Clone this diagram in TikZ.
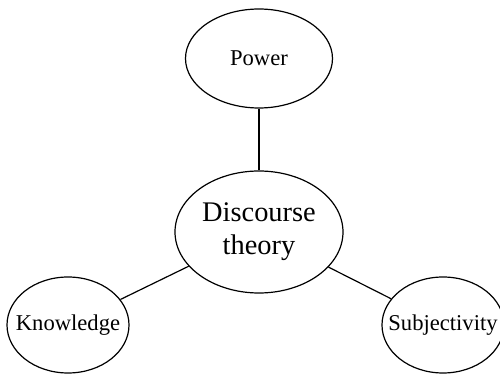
\documentclass[tikz,border=0pt]{standalone}
\usepackage{fontspec}
\setmainfont{Liberation Serif}
\usetikzlibrary{shapes.geometric,positioning}
\newcommand{\zw}[1]{\makebox[0pt]{#1}}
\tikzset{topic/.style={ellipse,draw,line width=0.6pt,inner sep=0pt,font=\fontsize{11.3}{13}\selectfont},
         core/.style={topic,font=\fontsize{14.2}{16.5}\selectfont,align=center}}
\begin{document}
\begin{tikzpicture}[x=0.5pt,y=-0.5pt]
          \clip (0,0) rectangle (500,374);
          \node[core,minimum width=84pt,minimum height=61pt] (disc) at (259,232) {\zw{Discourse}\\\zw{theory}};
          \node[topic,minimum width=73.5pt,minimum height=49.5pt] (pow) at (259,58.5) {\zw{Power}};
          \node[topic,minimum width=61pt,minimum height=48pt] (know) at (68,325) {\zw{Knowledge}};
          \node[topic,minimum width=61pt,minimum height=48pt] (subj) at (443,325) {\zw{Subjectivity}};
          \path[line width=0.6pt]
          (disc) edge (pow)
          edge (know)
          edge (subj);
        \end{tikzpicture}
\end{document}
